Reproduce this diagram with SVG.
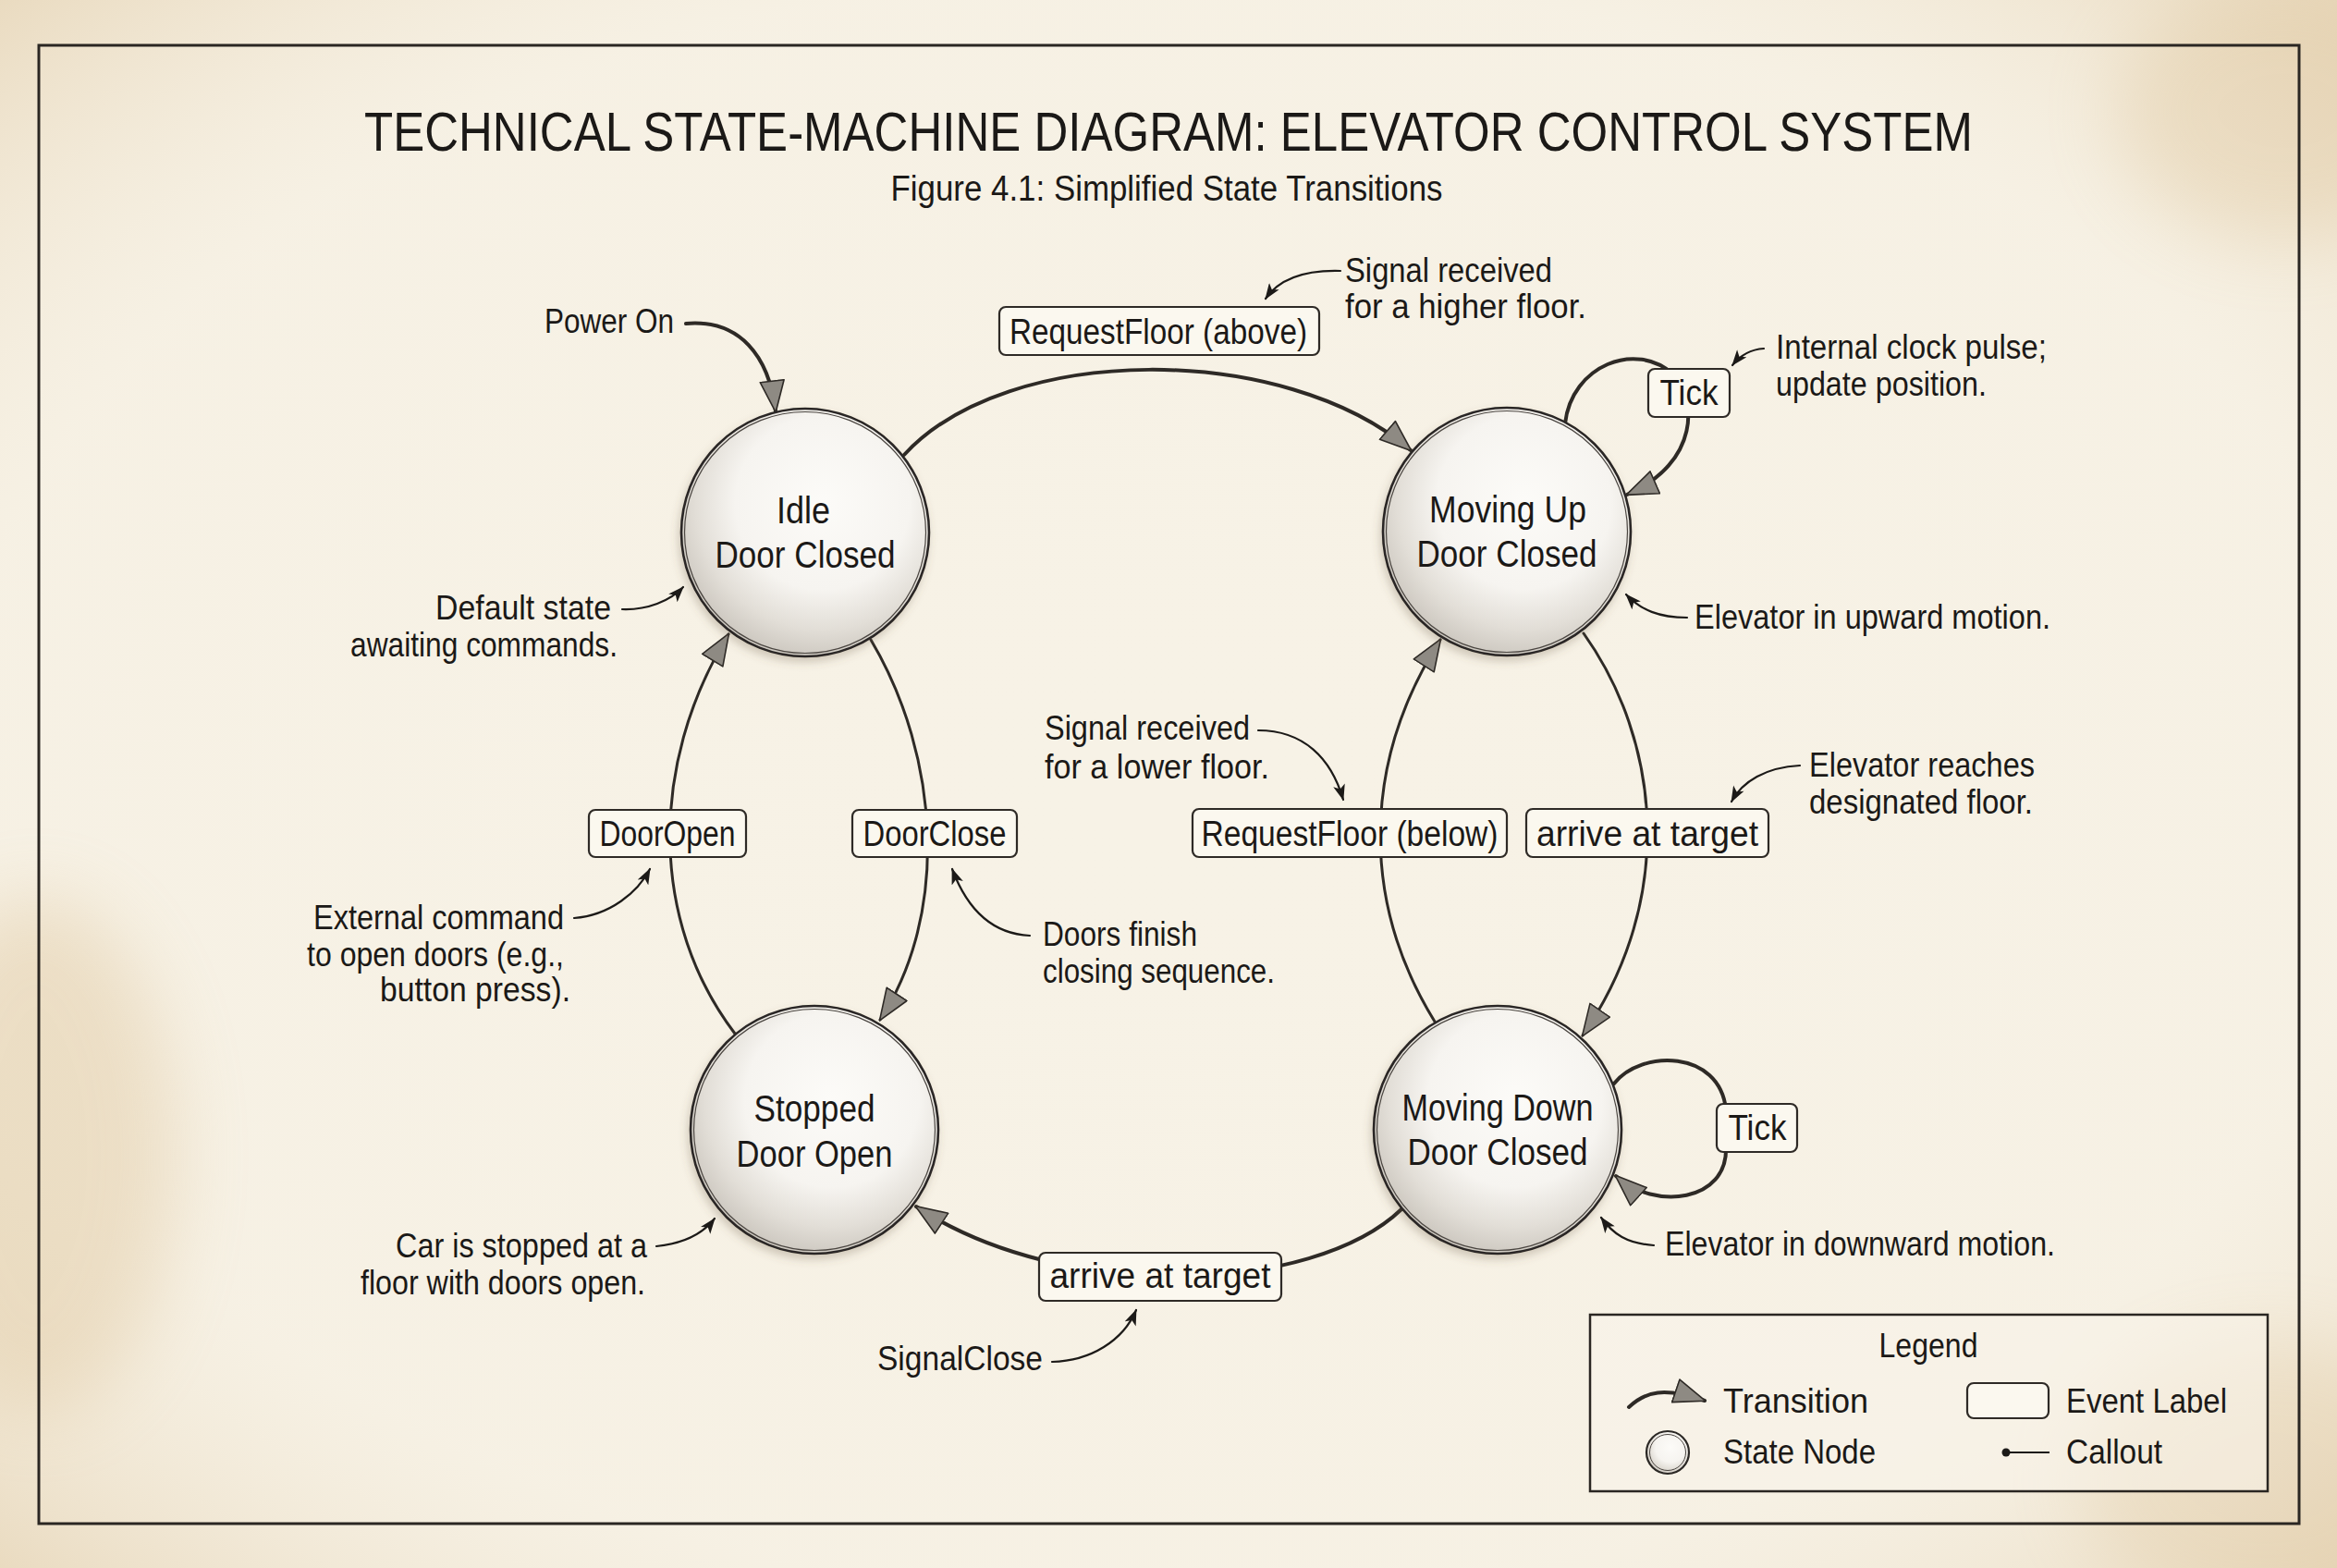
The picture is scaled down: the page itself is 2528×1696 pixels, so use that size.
<svg xmlns="http://www.w3.org/2000/svg" width="2528" height="1696" viewBox="0 0 2528 1696">
<style>
text{font-family:"Liberation Sans Narrow","Liberation Sans",Arial,sans-serif;fill:#1b1917}
.title{font-size:60px}
.sub{font-size:38px}
.co{font-size:36px}
.lbl{font-size:38px}
.nd{font-size:40px}
.lg{font-size:37px}
.mid{text-anchor:middle}
.end{text-anchor:end}
.box{fill:#fbf8ef;stroke:#2e2a26;stroke-width:2.2}
.tr{fill:none;stroke:#2e2a26;stroke-width:4;stroke-linecap:round;marker-end:url(#ah)}
.trv{fill:none;stroke:#2e2a26;stroke-width:3;stroke-linecap:round;marker-end:url(#ah)}
.cl{fill:none;stroke:#1c1a18;stroke-width:2.2;stroke-linecap:round;marker-end:url(#ch)}
.ring{fill:url(#nodeFill);stroke:#2b2825;stroke-width:2.6}
.ring2{fill:none;stroke:#4a4540;stroke-width:1.2}
</style>
<defs>
<radialGradient id="vig" cx="50%" cy="50%" r="74%">
<stop offset="0" stop-color="#f7f2e7" stop-opacity="0"/>
<stop offset="0.7" stop-color="#efe4cf" stop-opacity="0.1"/>
<stop offset="1" stop-color="#d8bc8e" stop-opacity="0.55"/>
</radialGradient>
<radialGradient id="nodeFill" cx="0.57" cy="0.38" r="0.64">
<stop offset="0" stop-color="#fcfbf8"/>
<stop offset="0.55" stop-color="#f6f4f0"/>
<stop offset="0.8" stop-color="#e2ded7"/>
<stop offset="1" stop-color="#cbc6be"/>
</radialGradient>
<filter id="shadow" x="-20%" y="-20%" width="140%" height="140%">
<feDropShadow dx="-2" dy="5" stdDeviation="5" flood-color="#6b5a40" flood-opacity="0.28"/>
</filter>
<filter id="blur" x="-50%" y="-50%" width="200%" height="200%"><feGaussianBlur stdDeviation="40"/></filter>
<marker id="ah" viewBox="0 0 36 28" refX="34" refY="14" markerWidth="36" markerHeight="28" markerUnits="userSpaceOnUse" orient="auto">
<path d="M1,1 L35,14 L1,27 Z" fill="#8e8a83" stroke="#2e2a26" stroke-width="1.6" stroke-linejoin="round"/>
</marker>
<marker id="ch" viewBox="0 0 16 12" refX="15" refY="6" markerWidth="18" markerHeight="13" markerUnits="userSpaceOnUse" orient="auto">
<path d="M0,0 L16,6 L0,12 L4,6 Z" fill="#1c1a18"/>
</marker>
</defs>

<g id="background">
<rect x="0" y="0" width="2528" height="1696" fill="#f7f2e6"/>
<ellipse cx="40" cy="1250" rx="150" ry="280" fill="#d2ae76" opacity="0.3" filter="url(#blur)"/>
<ellipse cx="2470" cy="120" rx="180" ry="140" fill="#d2ae76" opacity="0.28" filter="url(#blur)"/>
<ellipse cx="2450" cy="1600" rx="200" ry="150" fill="#d2ae76" opacity="0.22" filter="url(#blur)"/>
<rect x="0" y="0" width="2528" height="1696" fill="url(#vig)"/>
<rect x="42" y="49" width="2445" height="1599" fill="none" stroke="#2a2622" stroke-width="3"/>
</g>

<g id="titles">
<text class="title mid" x="1264" y="163" textLength="1740" lengthAdjust="spacingAndGlyphs">TECHNICAL STATE-MACHINE DIAGRAM: ELEVATOR CONTROL SYSTEM</text>
<text class="sub mid" x="1262" y="217" textLength="597" lengthAdjust="spacingAndGlyphs">Figure 4.1: Simplified State Transitions</text>
</g>

<g id="connectors">
<path class="tr" d="M742,350 C800,345 832,385 839,445"/>
<path class="tr" d="M978,492 C1090,370 1390,370 1526,487"/>
<path class="tr" d="M1693,458 C1700,395 1770,368 1810,405 C1835,430 1840,500 1760,535"/>
<path class="trv" d="M942,692 C1018,820 1026,990 952,1103"/>
<path class="trv" d="M795,1118 C705,1000 700,830 788,686"/>
<path class="trv" d="M1713,685 C1795,800 1815,970 1712,1120"/>
<path class="trv" d="M1552,1105 C1475,980 1470,830 1558,692"/>
<path class="tr" d="M1516,1308 C1420,1400 1150,1410 991,1305"/>
<path class="tr" d="M1746,1172 C1775,1135 1860,1135 1867,1200 L1867,1240 C1870,1300 1790,1310 1748,1272"/>
<path class="cl" d="M1450,293 C1415,292 1385,300 1369,323"/>
<path class="cl" d="M1908,377 C1892,378 1882,385 1874,395"/>
<path class="cl" d="M673,659 C700,660 725,650 739,635"/>
<path class="cl" d="M1825,668 C1795,668 1775,660 1759,643"/>
<path class="cl" d="M1361,790 C1410,790 1440,820 1453,865"/>
<path class="cl" d="M1947,828 C1910,830 1885,845 1873,867"/>
<path class="cl" d="M621,993 C660,990 690,965 703,940"/>
<path class="cl" d="M1114,1012 C1070,1010 1045,980 1030,940"/>
<path class="cl" d="M710,1348 C740,1345 760,1335 773,1318"/>
<path class="cl" d="M1138,1473 C1180,1472 1215,1450 1229,1417"/>
<path class="cl" d="M1789,1347 C1760,1345 1745,1335 1732,1317"/>
</g>

<g id="node-idle">
<circle class="ring" cx="871" cy="576" r="134" filter="url(#shadow)"/>
<circle class="ring2" cx="871" cy="576" r="130.5"/>
<text class="nd mid" x="869" y="566" textLength="58" lengthAdjust="spacingAndGlyphs">Idle</text>
<text class="nd mid" x="871" y="614" textLength="195" lengthAdjust="spacingAndGlyphs">Door Closed</text>
</g>
<g id="node-moving-up">
<circle class="ring" cx="1630" cy="575" r="134" filter="url(#shadow)"/>
<circle class="ring2" cx="1630" cy="575" r="130.5"/>
<text class="nd mid" x="1631" y="565" textLength="170" lengthAdjust="spacingAndGlyphs">Moving Up</text>
<text class="nd mid" x="1630" y="613" textLength="195" lengthAdjust="spacingAndGlyphs">Door Closed</text>
</g>
<g id="node-stopped">
<circle class="ring" cx="881" cy="1222" r="134" filter="url(#shadow)"/>
<circle class="ring2" cx="881" cy="1222" r="130.5"/>
<text class="nd mid" x="881" y="1213" textLength="131" lengthAdjust="spacingAndGlyphs">Stopped</text>
<text class="nd mid" x="881" y="1262" textLength="169" lengthAdjust="spacingAndGlyphs">Door Open</text>
</g>
<g id="node-moving-down">
<circle class="ring" cx="1620" cy="1222" r="134" filter="url(#shadow)"/>
<circle class="ring2" cx="1620" cy="1222" r="130.5"/>
<text class="nd mid" x="1620" y="1212" textLength="207" lengthAdjust="spacingAndGlyphs">Moving Down</text>
<text class="nd mid" x="1620" y="1260" textLength="195" lengthAdjust="spacingAndGlyphs">Door Closed</text>
</g>

<g id="label-request-above">
<rect class="box" x="1081" y="332" width="346" height="52" rx="7"/>
<text class="lbl mid" x="1253" y="372" textLength="322" lengthAdjust="spacingAndGlyphs">RequestFloor (above)</text>
</g>
<g id="label-tick-up">
<rect class="box" x="1783" y="399" width="88" height="52" rx="7"/>
<text class="lbl mid" x="1827" y="438" textLength="63" lengthAdjust="spacingAndGlyphs">Tick</text>
</g>
<g id="label-dooropen">
<rect class="box" x="637" y="876" width="170" height="51" rx="7"/>
<text class="lbl mid" x="722" y="915" textLength="147" lengthAdjust="spacingAndGlyphs">DoorOpen</text>
</g>
<g id="label-doorclose">
<rect class="box" x="922" y="876" width="178" height="51" rx="7"/>
<text class="lbl mid" x="1011" y="915" textLength="155" lengthAdjust="spacingAndGlyphs">DoorClose</text>
</g>
<g id="label-request-below">
<rect class="box" x="1290" y="875" width="340" height="52" rx="7"/>
<text class="lbl mid" x="1460" y="915" textLength="321" lengthAdjust="spacingAndGlyphs">RequestFloor (below)</text>
</g>
<g id="label-arrive-up">
<rect class="box" x="1651" y="875" width="262" height="52" rx="7"/>
<text class="lbl mid" x="1782" y="915" textLength="240" lengthAdjust="spacingAndGlyphs">arrive at target</text>
</g>
<g id="label-arrive-down">
<rect class="box" x="1124" y="1355" width="262" height="52" rx="7"/>
<text class="lbl mid" x="1255" y="1393" textLength="239" lengthAdjust="spacingAndGlyphs">arrive at target</text>
</g>
<g id="label-tick-down">
<rect class="box" x="1857" y="1194" width="87" height="52" rx="7"/>
<text class="lbl mid" x="1901" y="1233" textLength="63" lengthAdjust="spacingAndGlyphs">Tick</text>
</g>

<g id="callouts">
<text class="co" x="589" y="360" textLength="140" lengthAdjust="spacingAndGlyphs">Power On</text>
<text class="co" x="1455" y="305" textLength="224" lengthAdjust="spacingAndGlyphs">Signal received</text>
<text class="co" x="1455" y="344" textLength="261" lengthAdjust="spacingAndGlyphs">for a higher floor.</text>
<text class="co" x="1921" y="388" textLength="293" lengthAdjust="spacingAndGlyphs">Internal clock pulse;</text>
<text class="co" x="1921" y="428" textLength="228" lengthAdjust="spacingAndGlyphs">update position.</text>
<text class="co end" x="661" y="670" textLength="190" lengthAdjust="spacingAndGlyphs">Default state</text>
<text class="co end" x="668" y="710" textLength="289" lengthAdjust="spacingAndGlyphs">awaiting commands.</text>
<text class="co" x="1833" y="680" textLength="385" lengthAdjust="spacingAndGlyphs">Elevator in upward motion.</text>
<text class="co" x="1130" y="800" textLength="222" lengthAdjust="spacingAndGlyphs">Signal received</text>
<text class="co" x="1130" y="842" textLength="243" lengthAdjust="spacingAndGlyphs">for a lower floor.</text>
<text class="co" x="1957" y="840" textLength="244" lengthAdjust="spacingAndGlyphs">Elevator reaches</text>
<text class="co" x="1957" y="880" textLength="242" lengthAdjust="spacingAndGlyphs">designated floor.</text>
<text class="co end" x="610" y="1005" textLength="271" lengthAdjust="spacingAndGlyphs">External command</text>
<text class="co end" x="610" y="1045" textLength="278" lengthAdjust="spacingAndGlyphs">to open doors (e.g.,</text>
<text class="co end" x="617" y="1083" textLength="206" lengthAdjust="spacingAndGlyphs">button press).</text>
<text class="co" x="1128" y="1023" textLength="167" lengthAdjust="spacingAndGlyphs">Doors finish</text>
<text class="co" x="1128" y="1063" textLength="251" lengthAdjust="spacingAndGlyphs">closing sequence.</text>
<text class="co end" x="700" y="1360" textLength="272" lengthAdjust="spacingAndGlyphs">Car is stopped at a</text>
<text class="co end" x="698" y="1400" textLength="308" lengthAdjust="spacingAndGlyphs">floor with doors open.</text>
<text class="co" x="949" y="1482" textLength="179" lengthAdjust="spacingAndGlyphs">SignalClose</text>
<text class="co" x="1801" y="1358" textLength="422" lengthAdjust="spacingAndGlyphs">Elevator in downward motion.</text>
</g>

<g id="legend">
<rect x="1720" y="1422" width="733" height="191" fill="#f9f4e9" fill-opacity="0.6" stroke="#2a2622" stroke-width="2.5"/>
<text class="lg mid" x="2086" y="1468" textLength="107" lengthAdjust="spacingAndGlyphs">Legend</text>
<path d="M1762,1522 C1780,1505 1800,1500 1844,1515" fill="none" stroke="#2e2a26" stroke-width="4" stroke-linecap="round" marker-end="url(#ah)"/>
<text class="lg" x="1864" y="1528" textLength="157" lengthAdjust="spacingAndGlyphs">Transition</text>
<circle cx="1804" cy="1571" r="23" fill="url(#nodeFill)" stroke="#2b2825" stroke-width="2.2"/>
<circle cx="1804" cy="1571" r="19.5" fill="none" stroke="#4a4540" stroke-width="1"/>
<text class="lg" x="1864" y="1583" textLength="165" lengthAdjust="spacingAndGlyphs">State Node</text>
<rect class="box" x="2128" y="1496" width="88" height="38" rx="7"/>
<text class="lg" x="2235" y="1528" textLength="174" lengthAdjust="spacingAndGlyphs">Event Label</text>
<circle cx="2170" cy="1571" r="4.5" fill="#1c1a18"/>
<line x1="2170" y1="1571" x2="2217" y2="1571" stroke="#1c1a18" stroke-width="2.2"/>
<text class="lg" x="2235" y="1583" textLength="104" lengthAdjust="spacingAndGlyphs">Callout</text>
</g>
</svg>
